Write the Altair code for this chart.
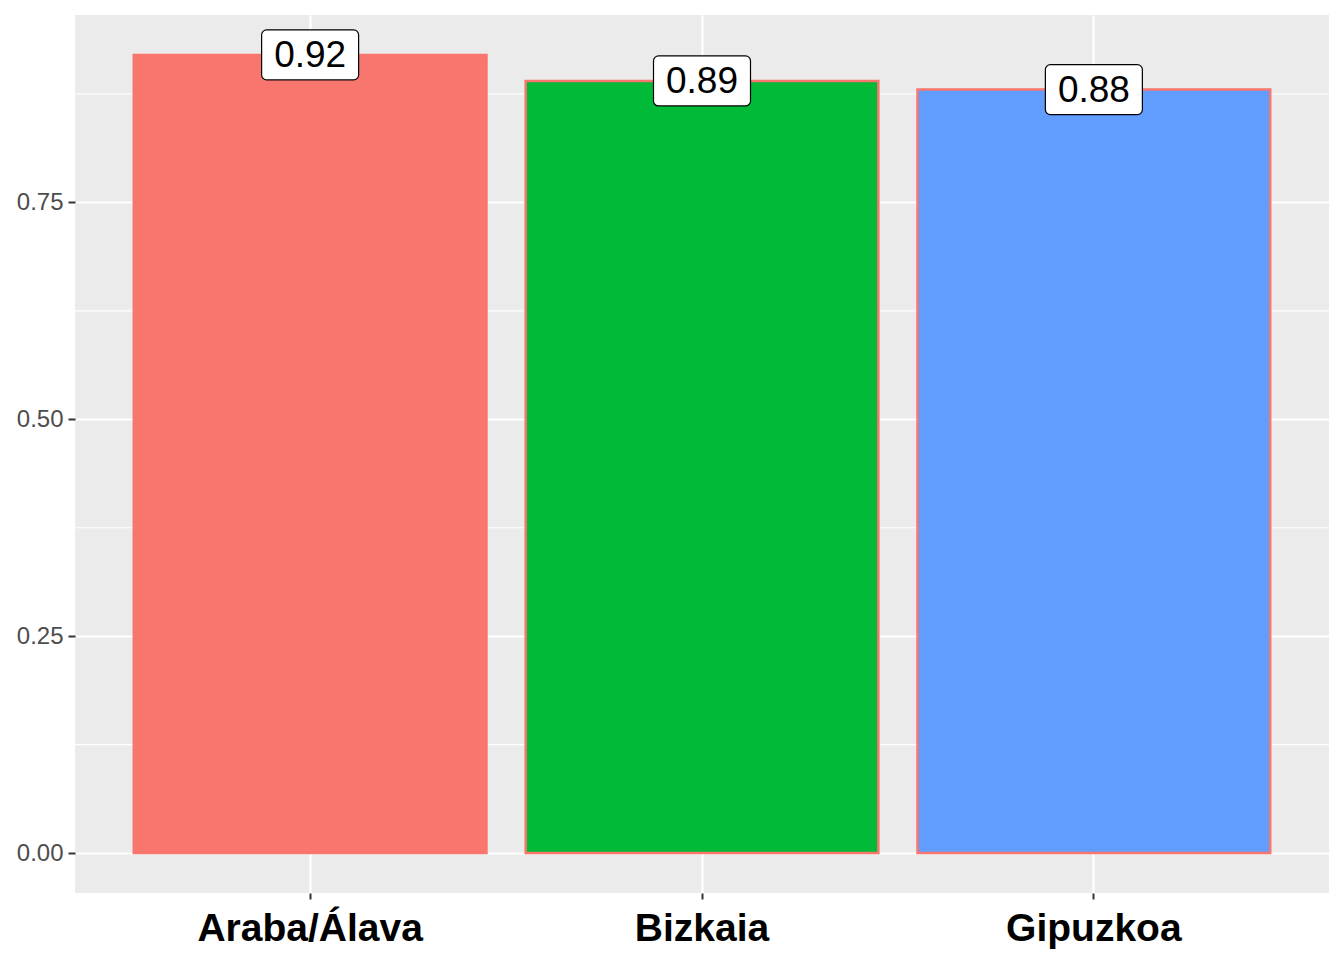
import altair as alt
import pandas as pd

categories = ["Araba/Álava", "Bizkaia", "Gipuzkoa"]
values = [0.92, 0.89, 0.88]
labels = ["0.92", "0.89", "0.88"]
colors = ["#F8766D", "#00BA38", "#619CFF"]
major_ticks = [0.0, 0.25, 0.50, 0.75]
minor_ticks = [0.125, 0.375, 0.625, 0.875]

df = pd.DataFrame({"cat": categories, "value": values, "label": labels})
minor_df = pd.DataFrame({"v": minor_ticks})

FONT = "Liberation Sans"
ydomain = [-0.046, 0.966]

xenc = alt.X("cat:N", sort=categories,
             scale=alt.Scale(paddingInner=0.1, paddingOuter=0.15),
             axis=alt.Axis(title=None, labelAngle=0, labelFontSize=39,
                           labelFontWeight="bold", labelColor="#000000",
                           labelFont=FONT, labelPadding=10, labelLimit=500,
                           grid=True, gridColor="#FFFFFF", gridWidth=2.2,
                           domain=False, tickColor="#333333", tickSize=6,
                           tickWidth=2))
yscale = alt.Scale(domain=ydomain, nice=False, zero=False)
yaxis = alt.Axis(title=None, values=major_ticks, format=".2f",
                 labelFontSize=24, labelColor="#4D4D4D", labelFont=FONT,
                 grid=True, gridColor="#FFFFFF", gridWidth=2.2,
                 domain=False, tickColor="#333333", tickSize=7,
                 tickWidth=2, labelPadding=5)

minor = alt.Chart(minor_df).mark_rule(color="#FFFFFF", strokeWidth=1.1).encode(
    y=alt.Y("v:Q", scale=yscale, axis=yaxis)
)

bars = alt.Chart(df).mark_bar(stroke="#F8766D", strokeWidth=2.5).encode(
    x=xenc,
    y=alt.Y("value:Q", scale=yscale, axis=yaxis),
    y2=alt.datum(0),
    color=alt.Color("cat:N", sort=categories,
                    scale=alt.Scale(domain=categories, range=colors), legend=None),
)

boxes = alt.Chart(df).mark_bar(width=97, yOffset=-25, y2Offset=25, cornerRadius=5,
                               fill="#FFFFFF", stroke="#000000", strokeWidth=1.2).encode(
    x=alt.X("cat:N", sort=categories),
    y=alt.Y("value:Q", scale=yscale),
    y2=alt.Y2("value:Q"),
)

texts = alt.Chart(df).mark_text(fontSize=37, font=FONT, color="#000000",
                                baseline="middle", align="center", dy=1).encode(
    x=alt.X("cat:N", sort=categories),
    y=alt.Y("value:Q", scale=yscale),
    text="label:N",
)

chart = alt.layer(minor, bars, boxes, texts).properties(
    width=1254, height=878,
    autosize=alt.AutoSizeParams(type="none"),
    padding={"left": 67, "top": 7, "right": 7, "bottom": 60},
    background="#FFFFFF",
).configure_view(fill="#EBEBEB", stroke=None)

chart.save("out.html", embed_options={"renderer": "svg", "actions": False})
